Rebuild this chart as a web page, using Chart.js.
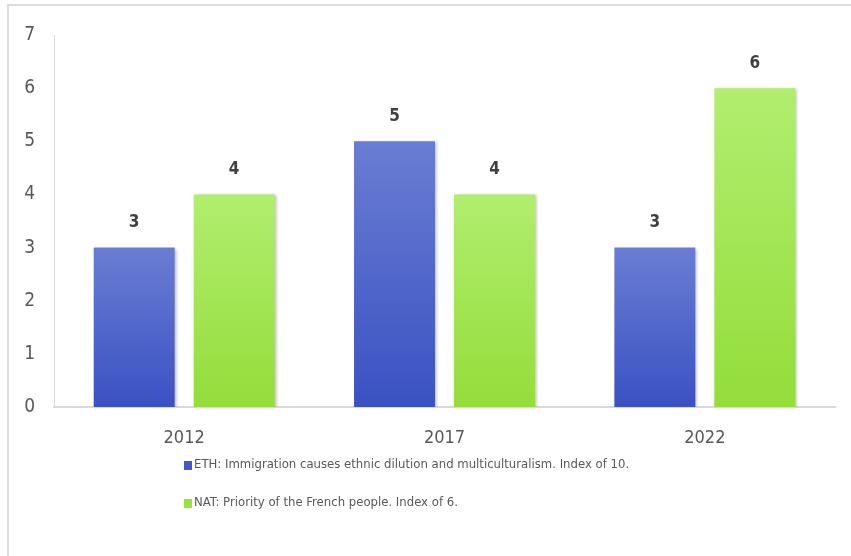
<!DOCTYPE html>
<html>
<head>
<meta charset="utf-8">
<script src="https://cdn.jsdelivr.net/npm/chart.js@4.4.1/dist/chart.umd.min.js"></script>
<style>
html,body{margin:0;padding:0;background:#fff;}
#wrap{position:relative;width:851px;height:556px;}
canvas{display:block;}
</style>
</head>
<body>
<div id="wrap"><canvas id="c" width="851" height="556"></canvas></div>
<script>
const categories = ["2012", "2017", "2022"];
const seriesNames = [
  "ETH: Immigration causes ethnic dilution and multiculturalism. Index of 10.",
  "NAT: Priority of the French people. Index of 6."
];
const ethValues = [3, 5, 3];
const natValues = [4, 4, 6];
const yTicks = [0, 1, 2, 3, 4, 5, 6, 7];

const FONT = "'Liberation Sans Narrow', 'DejaVu Sans Condensed', 'Open Sans', sans-serif";

function barGradient(ctx, top, bottom) {
  const chart = ctx.chart;
  const y = chart.scales && chart.scales.y;
  if (!y || ctx.raw === undefined) return bottom;
  const y0 = y.getPixelForValue(0), y1 = y.getPixelForValue(ctx.raw);
  if (!isFinite(y0) || !isFinite(y1) || y0 === y1) return bottom;
  const g = chart.ctx.createLinearGradient(0, y1, 0, y0);
  g.addColorStop(0, top);
  g.addColorStop(1, bottom);
  return g;
}

const frame = {
  id: 'frame',
  beforeDraw(chart) {
    const c = chart.ctx;
    c.save();
    c.fillStyle = '#fff';
    c.fillRect(0, 0, chart.width, chart.height);
    c.fillStyle = '#dcdcdc';
    c.fillRect(7, 4, chart.width - 7, 2);
    c.fillRect(7, 4, 2, chart.height - 4);
    c.restore();
  }
};

const shadow = {
  id: 'shadow',
  beforeDatasetsDraw(chart) {
    const c = chart.ctx;
    c.save();
    c.shadowColor = 'rgba(0,0,0,0.25)';
    c.shadowBlur = 3;
    c.shadowOffsetX = 2;
    c.shadowOffsetY = 1;
  },
  afterDatasetsDraw(chart) {
    chart.ctx.restore();
  }
};

const valueLabels = {
  id: 'valueLabels',
  afterDatasetsDraw(chart) {
    const c = chart.ctx;
    c.save();
    c.font = "bold 17px " + FONT;
    c.fillStyle = '#404040';
    c.textAlign = 'center';
    c.textBaseline = 'middle';
    chart.data.datasets.forEach((ds, i) => {
      chart.getDatasetMeta(i).data.forEach((bar, j) => {
        c.fillText(String(ds.data[j]), bar.x, bar.y - 25);
      });
    });
    c.restore();
  }
};

const customLegend = {
  id: 'customLegend',
  afterDraw(chart) {
    const c = chart.ctx;
    c.save();
    c.font = "13px " + FONT;
    c.textBaseline = 'middle';
    c.textAlign = 'left';
    const rows = [465, 503];
    chart.data.datasets.forEach((ds, i) => {
      const y = rows[i];
      c.fillStyle = ds.legendColor;
      c.fillRect(184, y - 4, 8, 9);
      c.fillStyle = '#595959';
      c.fillText(ds.label, 194, y);
    });
    c.restore();
  }
};

new Chart(document.getElementById('c'), {
  type: 'bar',
  data: {
    labels: categories,
    datasets: [
      {
        label: seriesNames[0],
        data: ethValues,
        legendColor: '#4258c6',
        backgroundColor: (ctx) => barGradient(ctx, '#6a7dd3', '#3a51c2'),
        borderWidth: 0
      },
      {
        label: seriesNames[1],
        data: natValues,
        legendColor: '#98e33e',
        backgroundColor: (ctx) => barGradient(ctx, '#b1ee6f', '#94dd3a'),
        borderWidth: 0
      }
    ]
  },
  options: {
    responsive: false,
    animation: false,
    devicePixelRatio: 1,
    categoryPercentage: 0.768,
    barPercentage: 0.81,
    layout: { padding: { left: 0, right: 16, top: 35, bottom: 99 } },
    plugins: {
      legend: { display: false },
      tooltip: { enabled: false }
    },
    scales: {
      x: {
        grid: { display: false, drawTicks: false },
        border: { display: true, color: '#d9d9d9', width: 2 },
        ticks: {
          color: '#595959',
          font: { family: FONT, size: 18 },
          padding: 21
        },
        afterFit(scale) { scale.height = 50; }
      },
      y: {
        min: 0,
        max: 7,
        afterBuildTicks(scale) { scale.ticks = yTicks.map(v => ({ value: v })); },
        grid: { display: false, drawTicks: false },
        border: { display: true, color: '#d9d9d9', width: 1 },
        ticks: {
          color: '#595959',
          font: { family: FONT, size: 19 },
          padding: 19
        },
        afterFit(scale) { scale.width = 54; }
      }
    }
  },
  plugins: [frame, shadow, valueLabels, customLegend]
});
</script>
</body>
</html>
